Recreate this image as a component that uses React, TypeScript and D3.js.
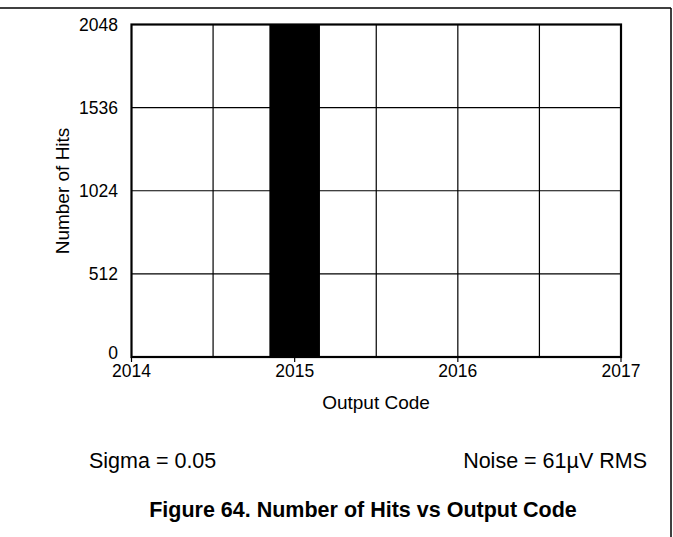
import React from "react";
import * as d3 from "d3";

const codes = [2015, 2016];
const hits = [2048, 5];
const xTicks = [2014, 2015, 2016, 2017];
const yTicks = [0, 512, 1024, 1536, 2048];
const xGrid = [2014.5, 2015, 2015.5, 2016, 2016.5];
const yGrid = [512, 1024, 1536];

const W = 673;
const H = 537;
const left = 131.5;
const right = 621;
const top = 24.5;
const bottom = 357;
const barWidthUnits = 0.31;
const font = "'Liberation Sans', Arial, sans-serif";

export default function App() {
  const x = d3.scaleLinear().domain([2014, 2017]).range([left, right]);
  const y = d3.scaleLinear().domain([0, 2048]).range([bottom, top]);
  const bw = x(2014 + barWidthUnits) - x(2014);
  return (
    <svg width={W} height={H} style={{ position: "absolute", left: 0, top: 0, background: "#fff" }}>
      <rect x={0} y={0} width={W} height={H} fill="#fff" />
      <line x1={0} x2={671} y1={8} y2={8} stroke="#000" strokeWidth={1.5} />
      <line x1={671} x2={671} y1={8} y2={H} stroke="#000" strokeWidth={1.5} />
      {xGrid.map((g) => (
        <line key={"xg" + g} x1={x(g)} x2={x(g)} y1={top} y2={bottom} stroke="#000" strokeWidth={1.2} />
      ))}
      {yGrid.map((g) => (
        <line key={"yg" + g} x1={left} x2={right} y1={y(g)} y2={y(g)} stroke="#000" strokeWidth={1.2} />
      ))}
      {codes.map((c, i) => (
        <rect key={"b" + c} x={x(c) - bw / 2} width={bw} y={y(hits[i])} height={y(0) - y(hits[i])} fill="#000" />
      ))}
      <rect x={left} y={top} width={right - left} height={bottom - top} fill="none" stroke="#000" strokeWidth={2.2} />
      {xTicks.map((t) => (
        <g key={"xt" + t}>
          <line x1={x(t)} x2={x(t)} y1={bottom} y2={bottom + 5} stroke="#000" strokeWidth={1.2} />
          <text x={x(t)} y={377} textAnchor="middle" fontFamily={font} fontSize={17.5} fill="#000">
            {t}
          </text>
        </g>
      ))}
      {yTicks.map((t) => (
        <text key={"yt" + t} x={118} y={t === 0 ? y(t) - 4 : y(t)} dy="0.35em" textAnchor="end" fontFamily={font} fontSize={17.5} fill="#000">
          {t}
        </text>
      ))}
      <text x={0} y={0} transform={`translate(69,191) rotate(-90)`} textAnchor="middle" fontFamily={font} fontSize={19} fill="#000">
        Number of Hits
      </text>
      <text x={376} y={409} textAnchor="middle" fontFamily={font} fontSize={19} fill="#000">
        Output Code
      </text>
      <text x={89} y={468} textAnchor="start" fontFamily={font} fontSize={21.5} fill="#000">
        Sigma = 0.05
      </text>
      <text x={647} y={468} textAnchor="end" fontFamily={font} fontSize={21.5} fill="#000">
        Noise = 61µV RMS
      </text>
      <text x={363} y={517} textAnchor="middle" fontFamily={font} fontSize={21.5} fontWeight="bold" fill="#000">
        Figure 64. Number of Hits vs Output Code
      </text>
    </svg>
  );
}
